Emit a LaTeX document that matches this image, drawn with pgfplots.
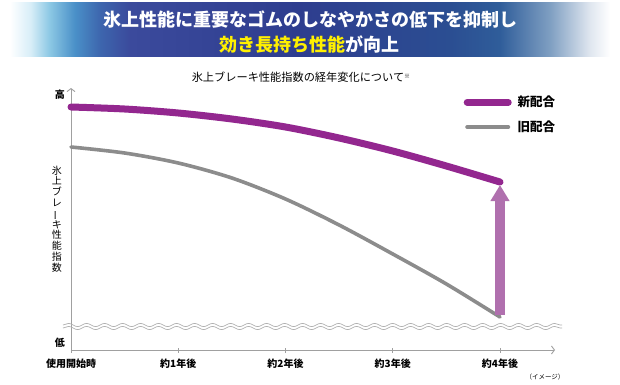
\documentclass[border=0pt]{standalone}
\usepackage{fontspec}
\setmainfont{Noto Sans CJK JP}
\usepackage{pgfplots}
\pgfplotsset{compat=1.18}
\usetikzlibrary{arrows.meta,decorations.pathmorphing}
\definecolor{newc}{HTML}{93278F}
\definecolor{oldc}{HTML}{8C8C8C}
\definecolor{arrc}{HTML}{B070AE}
\definecolor{axc}{HTML}{A0A0A0}
\definecolor{wavc}{HTML}{B0B0B0}
\definecolor{ylw}{HTML}{FFF000}
\definecolor{ba}{HTML}{D8EEF8}
\definecolor{bb}{HTML}{8CC8E4}
\definecolor{bc}{HTML}{4A90C8}
\definecolor{bd}{HTML}{3D66AE}
\definecolor{be}{HTML}{3B4A9C}
\definecolor{bf}{HTML}{2E3D8F}
\definecolor{bg}{HTML}{2B4E92}
\definecolor{bh}{HTML}{2F5D9A}
\definecolor{bi}{HTML}{7F9FC2}
\definecolor{bj}{HTML}{DFE6EF}
\pgfdeclarehorizontalshading{banner}{100bp}{color(0bp)=(white); color(25bp)=(white); color(26.7bp)=(ba); color(28.3bp)=(bb); color(30.4bp)=(bc); color(32.5bp)=(bd); color(35bp)=(be); color(49bp)=(bf); color(61.7bp)=(bg); color(65.8bp)=(bh); color(70bp)=(bi); color(73.3bp)=(bj); color(75bp)=(white); color(100bp)=(white)}
\begin{document}
\begin{tikzpicture}
\path[fill=white,use as bounding box] (0pt,0pt) rectangle (620pt,384pt);
\path[shading=banner] (10pt,328pt) rectangle (610pt,381pt);
\node[font=\bfseries\fontsize{18}{22}\selectfont, text=white, inner sep=0pt] at (310pt,364pt) {氷上性能に重要なゴムのしなやかさの低下を抑制し};
\node[font=\bfseries\fontsize{18}{22}\selectfont, text=white, inner sep=0pt] at (309pt,340pt) {\textcolor{ylw}{効き長持ち性能}が向上};
\node[font=\fontsize{11.2}{13}\selectfont, inner sep=0pt] at (301pt,307pt) {氷上ブレーキ性能指数の経年変化について\raisebox{3pt}{\fontsize{6}{6}\selectfont ※}};
\node[font=\fontsize{6.5}{8}\selectfont, inner sep=0pt] at (545pt,7pt) {（イメージ）};
\begin{axis}[
  at={(71pt,34pt)}, anchor=origin,
  x=107.25pt, y=1pt,
  xmin=0, xmax=4.513, ymin=0, ymax=262,
  axis lines=left, clip=false,
  axis line style={draw=axc, line width=0.9pt},
  x axis line style={-{Straight Barb[length=3pt,width=8pt]}},
  y axis line style={-{Straight Barb[length=3pt,width=8pt]}},
  xtick={0,1,2,3,4},
  xticklabels={使用開始時,約1年後,約2年後,約3年後,約4年後},
  xticklabel style={font=\bfseries\fontsize{10}{12}\selectfont, yshift=-3pt},
  x tick style={draw=axc, line width=0.9pt},
  tick align=center, major tick length=5pt,
  ytick={255,7}, yticklabels={高,低},
  y tick style={draw=none},
  yticklabel style={font=\bfseries\fontsize{10}{12}\selectfont},
  legend style={at={(axis cs:3.66,256)}, anchor=north west, draw=none, fill=none, inner sep=0pt,
    font=\bfseries\fontsize{12.5}{14}\selectfont, row sep=8.5pt, column sep=4pt},
  legend cell align=left,
  legend image code/.code={\draw[#1, line cap=round] (0pt,0pt) -- (41pt,0pt);},
]
\addlegendimage{newc, line width=7pt}
\addlegendentry{新配合}
\addlegendimage{oldc, line width=4pt}
\addlegendentry{旧配合}
\addplot[oldc, line width=3.6pt, smooth, line cap=round, forget plot] coordinates {
(0,203) (0.5,197) (1,187) (1.5,172) (2,151) (2.5,125) (3,96) (3.5,66) (4,33)};
\addplot[arrc, line width=10pt, -{Triangle[width=18pt,length=16pt]}, forget plot] coordinates {(4,35) (4,165)};
\addplot[newc, line width=7pt, smooth, line cap=round, forget plot] coordinates {
(0,243) (0.5,241) (1,237) (1.5,231) (2,223) (2.5,212) (3,199) (3.5,184) (4,168)};
\draw[wavc, line width=0.7pt, decorate, decoration={snake, amplitude=1.6pt, segment length=18pt}] (axis cs:-0.075,25) -- (axis cs:4.58,25);
\draw[wavc, line width=0.7pt, decorate, decoration={snake, amplitude=1.6pt, segment length=18pt}] (axis cs:-0.075,22) -- (axis cs:4.58,22);
\node[font=\fontsize{10}{10.8}\selectfont, align=center, inner sep=0pt] at (axis cs:-0.131,131) {氷\\上\\ブ\\レ\\\rotatebox[origin=c]{90}{ー}\\キ\\性\\能\\指\\数};
\end{axis}
\end{tikzpicture}
\end{document}
